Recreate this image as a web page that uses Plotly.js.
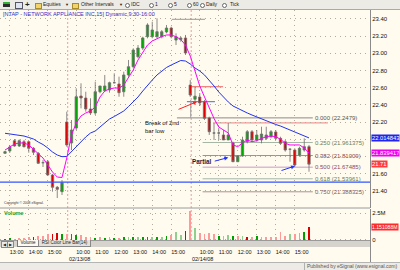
<!DOCTYPE html>
<html><head><meta charset="utf-8">
<script src="https://cdn.plot.ly/plotly-3.0.1.min.js"></script>
<style>
html,body{margin:0;padding:0;background:#fffbef;overflow:hidden;}
#chart{position:absolute;left:0;top:0;width:400px;height:270px;}
.ov{position:absolute;font-family:'Liberation Sans',Arial,sans-serif;white-space:nowrap;color:#222;}
.rb{position:absolute;top:3px;width:3px;height:3px;border-radius:50%;border:0.8px solid #666;background:#fff;}
</style></head><body>
<div id="chart"></div>
<!-- toolbar -->
<div class="ov" style="left:0;top:0;width:400px;height:9px;background:#ecebe6;border-bottom:1px solid #a9a9a9;"></div>
<div class="ov" style="left:3px;top:2px;width:7px;height:3px;background:#2b2b2b;border-top:2px solid #2fb52f;"></div>
<div class="ov" style="left:15px;top:2px;width:6px;height:5px;background:#dfe6ef;border:0.8px solid #556;"></div>
<div class="ov" style="left:25px;top:0;font-size:8px;line-height:9px;font-weight:bold;">+</div>
<div class="ov" style="left:35px;top:3px;width:5px;height:4px;background:#f2d36b;border:0.6px solid #a88a2a;"></div>
<div class="ov" style="left:43px;top:0;font-size:5px;line-height:9.5px;">Equities</div>
<div class="ov" style="left:65px;top:0;font-size:4px;line-height:9.5px;">&#9660;</div>
<div class="ov" style="left:72px;top:3px;width:5px;height:4px;background:#f2d36b;border:0.6px solid #a88a2a;"></div>
<div class="ov" style="left:81px;top:0;font-size:5px;line-height:9.5px;">Other Intervals</div>
<div class="ov" style="left:119px;top:0;font-size:4px;line-height:9.5px;">&#9660;</div>
<div class="rb" style="left:125px;"></div><div class="ov" style="left:131px;top:0;font-size:5px;line-height:9.5px;">IDC</div>
<div class="rb" style="left:149px;"></div><div class="ov" style="left:155px;top:0;font-size:5px;line-height:9.5px;">1</div>
<div class="rb" style="left:168px;"></div><div class="ov" style="left:174px;top:0;font-size:5px;line-height:9.5px;">5</div>
<div class="rb" style="left:187px;"></div><div class="ov" style="left:193px;top:0;font-size:5px;line-height:9.5px;">60</div>
<div class="rb" style="left:200px;"></div><div class="ov" style="left:206px;top:0;font-size:5px;line-height:9.5px;">Daily</div>
<div class="rb" style="left:222px;"></div><div class="ov" style="left:230px;top:0;font-size:5px;line-height:9.5px;">Tick</div>
<!-- tab bar -->
<div class="ov" style="left:0;top:240px;width:370px;height:6px;background:#d6d3cc;border-top:1px solid #9a9a9a;"></div>
<div class="ov" style="left:1px;top:241px;width:5px;height:5px;background:#ecebe6;border:0.6px solid #888;font-size:4px;line-height:5px;text-align:center;">&#9664;</div>
<div class="ov" style="left:7px;top:241px;width:5px;height:5px;background:#ecebe6;border:0.6px solid #888;font-size:4px;line-height:5px;text-align:center;">&#9654;</div>
<div class="ov" style="left:17px;top:240px;width:20px;height:6px;background:#fbfaf3;border:0.6px solid #777;border-top:none;font-size:4.5px;line-height:6px;text-align:center;">Volume</div>
<div class="ov" style="left:38px;top:240px;width:51px;height:6px;background:#e4e1da;border:0.6px solid #888;border-top:none;font-size:4.5px;line-height:6px;text-align:center;">RSI Color Line Bar(14)</div>
<!-- right column line below plot -->
<div class="ov" style="left:370px;top:240px;width:0;height:22px;border-left:1px solid #8a8a8a;"></div>
<!-- status bar -->
<div class="ov" style="left:0;top:262px;width:400px;height:8px;background:#ecebe6;border-top:1px solid #b5b5b5;"></div>
<div class="ov" style="left:304px;top:263px;width:0;height:7px;border-left:1px solid #b0b0b0;"></div>
<div class="ov" style="left:307px;top:262px;font-size:5px;line-height:8.5px;color:#555;">Published by eSignal (www.esignal.com)</div>
<script>
// ---------- data ----------
const sessions = [
  {date:'02/12/08', start:'12:45', bars:13},
  {date:'02/13/08', start:'09:30', bars:26},
  {date:'02/14/08', start:'09:30', bars:26}
];
const open  = [21.836,21.863,21.983,21.921,21.971,21.971,21.894,21.836,21.727,21.738,21.584,21.441,21.390,
  22.200,21.956,22.130,22.502,22.479,22.351,22.305,22.552,22.564,22.572,22.657,22.642,22.552,22.747,22.843,22.959,23.060,23.192,23.192,23.192,23.192,23.247,23.293,23.153,23.159,23.177,
  22.630,22.465,22.491,22.436,22.247,22.072,22.072,22.049,21.991,21.956,21.738,21.805,21.971,22.087,21.991,21.991,22.010,22.029,22.084,22.010,21.971,21.883,21.874,21.816,21.874,21.913];
const high  = [21.865,21.933,22.002,21.997,21.991,21.979,21.909,21.851,21.758,21.758,21.595,21.456,21.526,
  22.320,22.223,22.592,22.650,22.552,22.476,22.669,22.619,22.747,22.669,22.766,22.727,22.785,22.921,23.057,23.095,23.192,23.348,23.366,23.406,23.270,23.328,23.308,23.231,23.192,23.212,
  22.688,22.610,22.537,22.456,22.262,22.188,22.130,22.107,22.188,21.971,21.816,22.029,22.107,22.107,22.107,22.145,22.145,22.107,22.107,22.029,21.991,21.894,21.894,21.913,22.010,21.933];
const low   = [21.830,21.840,21.913,21.909,21.904,21.843,21.816,21.712,21.677,21.578,21.390,21.316,21.351,
  21.913,21.874,22.107,22.359,22.320,22.281,22.281,22.534,22.552,22.541,22.650,22.494,22.494,22.727,22.824,22.941,23.037,23.173,23.173,23.173,23.173,23.231,23.173,23.095,23.134,22.979,
  22.491,22.436,22.386,22.223,22.049,21.991,21.991,21.991,21.991,21.738,21.738,21.797,21.952,21.971,21.971,21.952,21.991,22.010,21.991,21.933,21.855,21.738,21.680,21.797,21.855,21.622];
const close = [21.855,21.909,21.921,21.983,21.913,21.894,21.848,21.720,21.727,21.584,21.441,21.417,21.494,
  21.933,22.107,22.494,22.479,22.351,22.305,22.552,22.619,22.619,22.657,22.657,22.541,22.747,22.843,23.037,23.060,23.177,23.328,23.270,23.250,23.250,23.293,23.192,23.192,23.177,23.002,
  22.514,22.500,22.421,22.243,22.087,22.072,22.072,21.991,22.049,21.738,21.805,21.991,22.087,21.991,22.049,22.060,22.049,22.087,22.010,21.952,21.874,21.883,21.700,21.894,21.913,21.710];
const maFast = [21.874,21.909,21.944,21.956,21.956,21.933,21.886,21.828,21.781,21.700,21.619,21.560,21.555,
  21.781,22.049,22.188,22.270,22.305,22.328,22.374,22.491,22.560,22.584,22.595,22.595,22.630,22.723,22.805,22.921,23.014,23.095,23.142,23.171,23.194,23.212,23.212,23.192,23.159,23.095,
  22.967,22.793,22.619,22.491,22.363,22.241,22.142,22.107,22.072,21.933,21.913,21.956,21.991,21.971,21.983,22.008,22.029,22.037,22.029,21.999,21.952,21.933,21.933,21.933,21.898,21.839417];
const maSlow = [22.069,22.060,22.055,22.049,22.037,22.020,22.002,21.967,21.938,21.898,21.851,21.816,21.797,
  21.799,21.857,21.909,21.979,22.026,22.072,22.095,22.142,22.194,22.235,22.264,22.293,22.328,22.380,22.433,22.491,22.560,22.630,22.688,22.747,22.793,22.834,22.863,22.886,22.915,22.909,
  22.874,22.828,22.793,22.747,22.688,22.619,22.549,22.485,22.433,22.386,22.357,22.328,22.305,22.281,22.258,22.235,22.212,22.188,22.171,22.153,22.130,22.107,22.084,22.060,22.043,22.014843];
const volume = [0.08,0.12,0.08,0.12,0.15,0.2,0.25,0.3,0.38,0.5,0.55,0.62,0.5,
  0.52,0.48,0.45,0.45,0.25,0.2,0.17,0.2,0.14,0.2,0.14,0.17,0.2,0.22,0.22,0.2,0.22,0.25,0.2,0.25,0.22,0.35,0.4,0.7,0.45,0.8,
  2.75,1.12,0.6,0.5,0.59,0.56,0.36,0.33,0.4,0.33,0.33,0.36,0.2,0.27,0.33,0.2,0.27,0.27,0.2,0.74,0.33,0.5,0.55,0.6,0.68,1.151088];
const volTone = ['g','g','lr','lr','lr','lr','r','lr','lr','lr','r','r','g',
  'lr','g','g','lr','lr','lr','g','lr','g','lr','g','lr','g','lg','g','lg','g','g','lg','g','lg','g','lr','lg','lg','r',
  'lr','lg','lr','lr','lr','lr','g','lr','lg','g','lr','lg','r','lr','g','lr','lr','lr','lr','lr','lr','lg','lr','lg','g','r'];
const priceTicks = [21.40,21.60,21.80,22.00,22.20,22.40,22.60,22.80,23.00,23.20,23.40];
const volTicks = [0, 2.5];
const volTickText = ['0','2.5M'];
const fibRatios = [0.000,0.250,0.382,0.500,0.618,0.750];
const fibPrices = [22.2479,21.961375,21.81009,21.67485,21.53961,21.388325];
const supportLevel = 21.50;
const secondBarHigh = 22.61, secondBarLow = 22.436, breakLevel = 22.19, swingHigh = 23.394;
const lastClose = 21.71, lastFast = 21.839417, lastSlow = 22.014843, lastVolume = 1.151088;

// ---------- build ----------
const FONT = 'Liberation Sans, Arial, sans-serif';
const W = 370, TOP = 10, BOT = 247, H = BOT - TOP;
const PX = v => v / W;
const PY = v => (BOT - v) / H;

const idx = open.map((_, i) => i);
const barTimes = [], sessionStart = [];
sessions.forEach(s => {
  let [h, m] = s.start.split(':').map(Number);
  sessionStart.push(barTimes.length);
  for (let k = 0; k < s.bars; k++) {
    barTimes.push((h < 10 ? '0' : '') + h + ':' + (m < 10 ? '0' : '') + m);
    m += 15; if (m >= 60) { m -= 60; h++; }
  }
});
const tickvals = [], ticktext = [];
barTimes.forEach((t, i) => { if (t.endsWith(':00')) { tickvals.push(i); ticktext.push(t); } });

const toneColor = {g:'#00a000', lg:'#8fd08f', r:'#e00000', lr:'#ff9a9a'};

// price tick labels hidden where the last-value boxes cover them (as in the reference)
const coveredTicks = [lastSlow, lastFast];
const priceTickText = priceTicks.map(v => coveredTicks.some(c => Math.abs(c - v) < 0.05) ? '' : v.toFixed(2));

const traces = [
  {type:'bar', x:idx, y:volume, xaxis:'x', yaxis:'y2', width:0.36,
   marker:{color:volTone.map(t => toneColor[t]), line:{width:0}}, hoverinfo:'skip'},
  {type:'scatter', mode:'lines', x:idx, y:maSlow, line:{color:'#2233ee', width:1}, hoverinfo:'skip'},
  {type:'candlestick', x:idx, open:open, high:high, low:low, close:close, whiskerwidth:0,
   increasing:{line:{color:'#6e6e6e', width:0.8}, fillcolor:'#00a800'},
   decreasing:{line:{color:'#6e6e6e', width:0.8}, fillcolor:'#e00000'}, hoverinfo:'skip'},
  {type:'scatter', mode:'lines', x:idx, y:maFast, line:{color:'#ff00ff', width:1}, hoverinfo:'skip'}
];

const shapes = [];
shapes.push({type:'line', xref:'paper', yref:'paper', x0:0, x1:1, y0:PY(208), y1:PY(208), line:{color:'#9a9a9a', width:1}});
sessionStart.slice(1).forEach(s => shapes.push({type:'line', xref:'x', yref:'paper', x0:s+0.2, x1:s+0.2, y0:PY(240), y1:1,
  line:{color:'#e6a0a0', width:1, dash:'2px,2px'}, layer:'below'}));
shapes.push({type:'line', xref:'paper', yref:'y', x0:0, x1:1, y0:supportLevel, y1:supportLevel, line:{color:'#3355ff', width:1.3}});
const fibLineColor = ['#8a8a8a','#a6b6a6','#b08a8a','#c79ac7','#a6b6a6','#b09090'];
fibPrices.forEach((p, k) => shapes.push({type:'line', xref:'x', yref:'y', x0:(k === 0 ? 36.2 : 41.6), x1:64.8, y0:p, y1:p,
  line:{color:fibLineColor[k], width:1}, layer:'below'}));
shapes.push({type:'line', xref:'x', yref:'y', x0:43.8, x1:68.0, y0:breakLevel, y1:breakLevel, line:{color:'#f29a9a', width:1.2}, layer:'below'});
shapes.push({type:'line', xref:'x', yref:'y', x0:38.9, x1:45.9, y0:secondBarHigh, y1:secondBarHigh, line:{color:'#f06060', width:1}, layer:'below'});
shapes.push({type:'line', xref:'x', yref:'y', x0:38.3, x1:44.2, y0:secondBarLow, y1:secondBarLow, line:{color:'#4466ff', width:1}, layer:'below'});
shapes.push({type:'line', xref:'x', yref:'y', x0:35.1, x1:42.1, y0:swingHigh, y1:swingHigh, line:{color:'#9a9a9a', width:1}, layer:'below'});
shapes.push({type:'line', xref:'x', yref:'y', x0:39.1, x1:39.1, y0:fibPrices[0], y1:secondBarLow + 0.02, line:{color:'#9a9a9a', width:1}, layer:'below'});

const ann = [];
ann.push({xref:'paper', yref:'paper', x:PX(1), y:PY(14), xanchor:'left', yanchor:'middle', showarrow:false,
  text:'[NTAP - NETWORK APPLIANCE INC,15] Dynamic,9:30-16:00', font:{family:FONT, size:5.5, color:'#3030c8'}});
ann.push({xref:'paper', yref:'paper', x:PX(2), y:PY(203), xanchor:'left', yanchor:'middle', showarrow:false,
  text:'Copyright © 2008 eSignal.', font:{family:FONT, size:3.4, color:'#333'}});
ann.push({xref:'paper', yref:'paper', x:PX(1.5), y:PY(213), xanchor:'left', yanchor:'middle', showarrow:false,
  text:'<b>Volume</b>', font:{family:FONT, size:5.5, color:'#22a022'}});
const fibTextColor = ['#555555','#5f7f5f','#8a4a4a','#8a4a6a','#5f7f5f','#8a5a5a'];
fibPrices.forEach((p, k) => ann.push({xref:'x', yref:'y', x:64.85, y:p, xanchor:'left', yanchor:'middle', showarrow:false,
  text:fibRatios[k].toFixed(3) + ' (' + String(p) + ')', font:{family:FONT, size:6, color:fibTextColor[k]}}));
const box = (yref, y, txt, bg, fs) => ({xref:'paper', yref:yref, x:PX(370.5), y:y, xanchor:'left', yanchor:'middle', showarrow:false,
  text:txt, bgcolor:bg, borderpad:0, font:{family:FONT, size:fs, color:'#ffffff'}});
ann.push(box('y', lastSlow, String(lastSlow), '#2323f0', 5.8));
ann.push(box('y', lastFast, String(lastFast), '#f000f0', 5.8));
ann.push(box('y', lastClose, lastClose.toFixed(2), '#ff3b3b', 5.8));
ann.push(box('y2', lastVolume, String(lastVolume) + 'M', '#ff2a2a', 5.1));
ann.push({xref:'x', yref:'y', x:29.05, y:22.139, xanchor:'left', yanchor:'middle', showarrow:false, align:'left',
  text:'Break of 2nd<br>bar low', font:{family:FONT, size:6, color:'#111'}});
ann.push({xref:'x', yref:'y', x:38.95, y:21.738, xanchor:'left', yanchor:'middle', showarrow:false,
  text:'<b>Partial</b>', font:{family:FONT, size:6.3, color:'#1a1a40'}});
ann.push({xref:'x', yref:'y', x:40.42, y:secondBarLow, ax:-20, ay:8.3, showarrow:true, text:'',
  arrowcolor:'#ff2020', arrowhead:2, arrowsize:0.8, arrowwidth:1});
ann.push({xref:'x', yref:'y', x:47.0, y:21.787, ax:-15, ay:4, showarrow:true, text:'',
  arrowcolor:'#2233ff', arrowhead:2, arrowsize:0.8, arrowwidth:1});
ann.push({xref:'x', yref:'y', x:61.05, y:21.688, ax:-15, ay:5, showarrow:true, text:'',
  arrowcolor:'#2233ff', arrowhead:2, arrowsize:0.8, arrowwidth:1});
sessionStart.slice(1).forEach((s, k) => ann.push({xref:'x', yref:'paper', x:s + 0.05, y:PY(258.5), xanchor:'left', yanchor:'middle',
  showarrow:false, text:sessions[k + 1].date, font:{family:FONT, size:5.5, color:'#111'}}));

const grid = {gridcolor:'#b3ab9c', griddash:'1px,4px', gridwidth:1};
const layout = {
  width:400, height:270, margin:{l:0, r:30, t:TOP, b:270 - BOT, pad:0},
  paper_bgcolor:'#fffbef', plot_bgcolor:'#fffbef', showlegend:false, bargap:0,
  xaxis:Object.assign({domain:[0, 1], range:[-1.053, (W - 5) / 4.75], anchor:'y2', tickvals:tickvals, ticktext:ticktext,
    ticks:'', tickangle:0, ticklabelposition:'outside right', tickfont:{family:FONT, size:5.5, color:'#111'},
    showgrid:true, zeroline:false, showline:false, rangeslider:{visible:false}, fixedrange:true}, grid),
  yaxis:Object.assign({domain:[PY(207.5), 1], range:[22.20 - (207.5 - 122) / 86, 22.20 + (122 - TOP) / 86], side:'right', anchor:'x',
    tickvals:priceTicks, ticktext:priceTickText, ticks:'', tickfont:{family:FONT, size:6, color:'#111'},
    showgrid:true, zeroline:false, showline:true, linecolor:'#8a8a8a', linewidth:1, fixedrange:true}, grid),
  yaxis2:Object.assign({domain:[0, PY(208.5)], range:[-(BOT - 239.5) / 10.5, (239.5 - 208.5) / 10.5], side:'right', anchor:'x',
    tickvals:volTicks, ticktext:volTickText, ticks:'', tickfont:{family:FONT, size:6, color:'#111'},
    showgrid:true, zeroline:false, showline:true, linecolor:'#8a8a8a', linewidth:1, fixedrange:true}, grid),
  shapes:shapes, annotations:ann
};
Plotly.newPlot('chart', traces, layout, {displayModeBar:false, staticPlot:true});
</script>
</body></html>
